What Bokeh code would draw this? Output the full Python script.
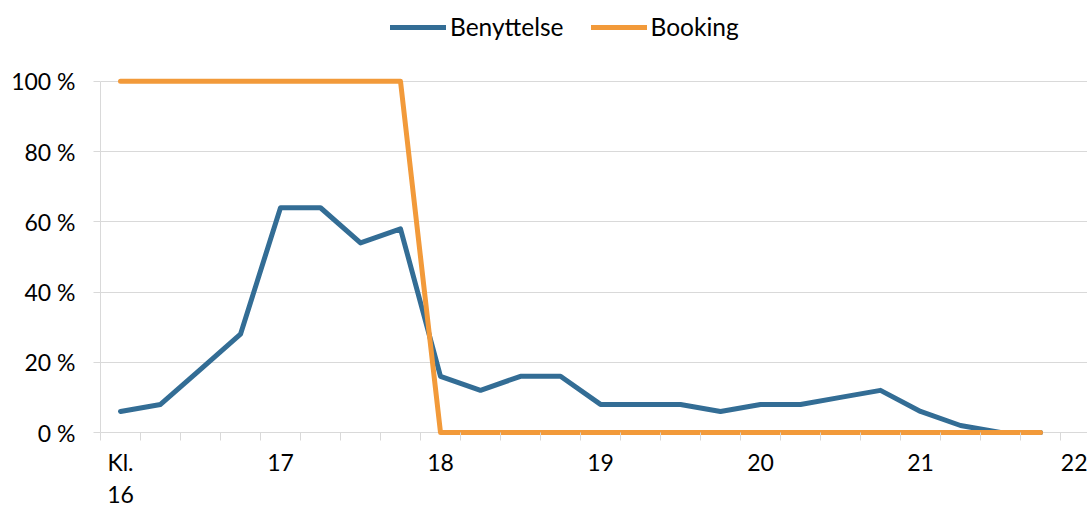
from bokeh.plotting import figure
from bokeh.models import Range1d, FixedTicker, Legend, LegendItem, ColumnDataSource
from bokeh.embed import file_html
from bokeh.resources import INLINE

# quarter-hour slots from 16:00 to 21:45
slots = ["16:00", "16:15", "16:30", "16:45", "17:00", "17:15", "17:30", "17:45",
         "18:00", "18:15", "18:30", "18:45", "19:00", "19:15", "19:30", "19:45",
         "20:00", "20:15", "20:30", "20:45", "21:00", "21:15", "21:30", "21:45"]
benyttelse = [6, 8, 18, 28, 64, 64, 54, 58, 16, 12, 16, 16, 8, 8, 8, 6, 8, 8, 10, 12, 6, 2, 0, 0]
booking = [100, 100, 100, 100, 100, 100, 100, 100, 0, 0, 0, 0, 0, 0, 0, 0, 0, 0, 0, 0, 0, 0, 0, 0]
hour_labels = ["Kl.\n16", "17", "18", "19", "20", "21", "22"]
y_ticks = [0, 20, 40, 60, 80, 100]
y_labels = ["0 %", "20 %", "40 %", "60 %", "80 %", "100 %"]

FONT = "Lato"
GRID = "#d9d9d9"
BLUE = "#336d95"
ORANGE = "#f29a3a"

n_slots = len(slots) + 1  # axis shows one extra (22:00) slot
xs = [i + 0.5 for i in range(len(slots))]
src = ColumnDataSource(dict(x=xs, slot=slots, ben=benyttelse, book=booking))

# frame spans page y 0..439; 100 % sits at y=81, 0 % at y=433
ppu = 3.52
p = figure(width=1087, height=510, output_backend="svg", toolbar_location=None,
           x_range=Range1d(0, 987 / 40), y_range=Range1d(-6 / ppu, 100 + 81 / ppu),
           min_border_left=100, min_border_right=0, min_border_top=0, min_border_bottom=71)
p.outline_line_color = None
p.background_fill_color = "white"
p.xgrid.grid_line_color = None
p.ygrid.grid_line_color = GRID
p.ygrid.ticker = FixedTicker(ticks=y_ticks)

r1 = p.line("x", "ben", source=src, line_color=BLUE, line_width=5, line_join="round", line_cap="round")
r2 = p.line("x", "book", source=src, line_color=ORANGE, line_width=5, line_join="round", line_cap="round")

# y axis
ya = p.yaxis[0]
ya.ticker = FixedTicker(ticks=y_ticks)
ya.major_label_overrides = {t: l for t, l in zip(y_ticks, y_labels)}
ya.bounds = (0, 100)
ya.axis_line_color = GRID
ya.major_tick_line_color = GRID
ya.major_tick_out = 7
ya.major_tick_in = 0
ya.minor_tick_line_color = None
ya.major_label_standoff = 18
ya.major_label_text_font = FONT
ya.major_label_text_font_size = "23px"
ya.major_label_text_color = "black"

# x axis
label_pos = [i * 4 + 0.5 for i in range(len(hour_labels))]
xa = p.xaxis[0]
xa.ticker = FixedTicker(ticks=label_pos, minor_ticks=list(range(n_slots + 1)))
xa.major_label_overrides = {t: l for t, l in zip(label_pos, hour_labels)}
xa.axis_line_color = None
xa.major_tick_line_color = None
xa.major_tick_out = 0
xa.major_tick_in = 0
xa.minor_tick_line_color = GRID
xa.minor_tick_in = 6
xa.minor_tick_out = 2
xa.major_label_standoff = 7
xa.major_label_text_font = FONT
xa.major_label_text_font_size = "23px"
xa.major_label_text_color = "black"
xa.major_label_text_line_height = 1.15

legend = Legend(items=[LegendItem(label="Benyttelse", renderers=[r1]),
                       LegendItem(label="Booking", renderers=[r2])],
                orientation="horizontal", location=(290, 397),
                background_fill_alpha=0, border_line_color=None,
                padding=0, margin=0, spacing=27, glyph_width=56, glyph_height=20,
                label_standoff=4, label_text_font=FONT, label_text_font_size="24.5px",
                label_text_color="black", label_height=20)
p.add_layout(legend, "center")

open("out.html", "w").write(file_html(p, INLINE))
